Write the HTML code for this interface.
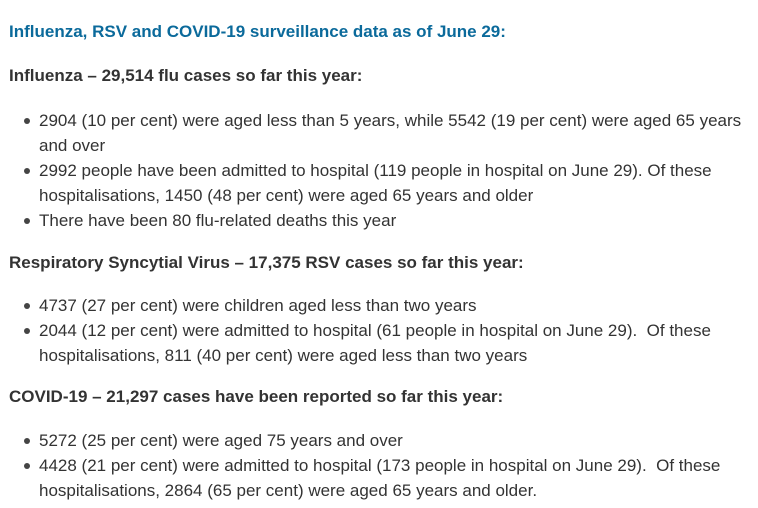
<!DOCTYPE html>
<html><head><meta charset="utf-8"><style>
body{margin:0;width:758px;height:508px;background:#fff;font-family:"Liberation Sans",Arial,sans-serif;font-size:17px;color:#333;position:relative;overflow:hidden}
.l{position:absolute;left:39px;line-height:25px;white-space:nowrap}
.h{position:absolute;left:9px;line-height:25px;font-weight:bold;white-space:nowrap}
.b{position:absolute;left:24px;width:6px;height:6px;border-radius:50%;background:#444}
</style></head><body>
<div class="h" style="top:19px;color:#0b6a9b">Influenza, RSV and COVID-19 surveillance data as of June 29:</div>
<div class="h" style="top:63px">Influenza – 29,514 flu cases so far this year:</div>
<div class="b" style="top:118px"></div><div class="l" style="top:108px">2904 (10 per cent) were aged less than 5 years, while 5542 (19 per cent) were aged 65 years</div>
<div class="l" style="top:133px">and over</div>
<div class="b" style="top:168px"></div><div class="l" style="top:158px">2992 people have been admitted to hospital (119 people in hospital on June 29). Of these</div>
<div class="l" style="top:183px">hospitalisations, 1450 (48 per cent) were aged 65 years and older</div>
<div class="b" style="top:218px"></div><div class="l" style="top:208px">There have been 80 flu-related deaths this year</div>
<div class="h" style="top:250px">Respiratory Syncytial Virus – 17,375 RSV cases so far this year:</div>
<div class="b" style="top:303px"></div><div class="l" style="top:293px">4737 (27 per cent) were children aged less than two years</div>
<div class="b" style="top:328px"></div><div class="l" style="top:318px">2044 (12 per cent) were admitted to hospital (61 people in hospital on June 29).&nbsp; Of these</div>
<div class="l" style="top:343px">hospitalisations, 811 (40 per cent) were aged less than two years</div>
<div class="h" style="top:384px">COVID-19 – 21,297 cases have been reported so far this year:</div>
<div class="b" style="top:438px"></div><div class="l" style="top:428px">5272 (25 per cent) were aged 75 years and over</div>
<div class="b" style="top:463px"></div><div class="l" style="top:453px">4428 (21 per cent) were admitted to hospital (173 people in hospital on June 29).&nbsp; Of these</div>
<div class="l" style="top:478px">hospitalisations, 2864 (65 per cent) were aged 65 years and older.</div>
</body></html>
